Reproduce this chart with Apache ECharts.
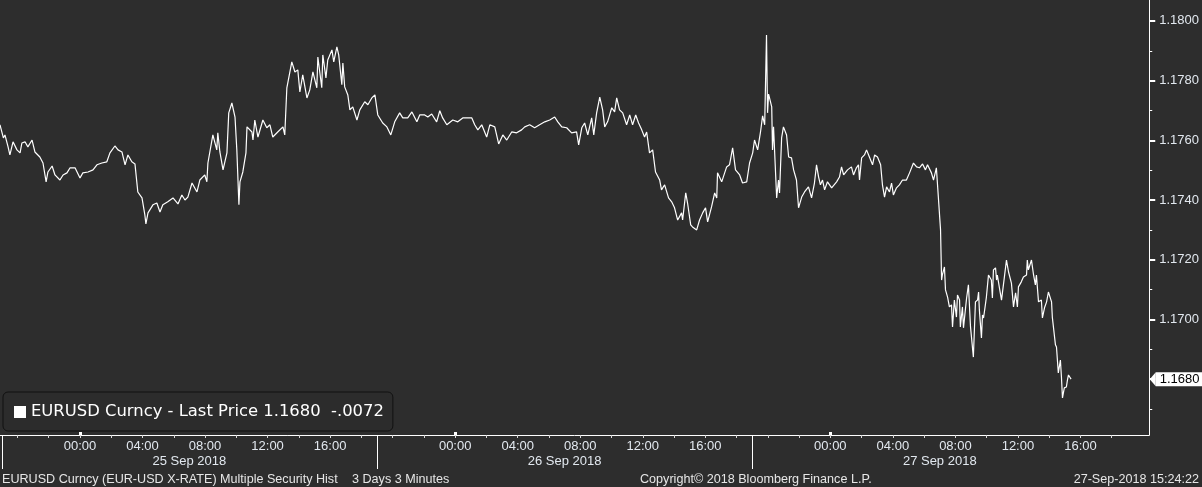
<!DOCTYPE html>
<html>
<head>
<meta charset="utf-8">
<script src="https://cdn.jsdelivr.net/npm/echarts@6/dist/echarts.min.js"></script>
<style>
html,body{margin:0;padding:0;background:#2d2d2d;}
#chart{width:1202px;height:487px;}
</style>
</head>
<body>
<div id="chart"></div>
<script>
// Time unit: minutes since 24 Sep 2018 00:00. Each session runs 19:00 -> 19:00.
const sep25Minutes = [1133,1146,1152,1164,1171,1183,1198,1210,1217,1229,1240,1256,1267,1286,1298,1310,1317,1333,1344,1363,1375,1390,1402,1421,1440,1451,1471,1490,1505,1524,1543,1555,1574,1586,1601,1613,1624,1639,1651,1662,1678,1689,1693,1701,1720,1735,1747,1758,1777,1797,1816,1831,1843,1854,1870,1889,1900,1919,1927,1931,1950,1965,1969,1977,1989,2004,2011,2023,2035,2042,2050,2054,2065,2077,2081,2100,2104,2111,2123,2142,2157,2169,2180,2199,2219,2226,2234,2253,2265,2276,2284,2295,2311,2322,2334,2349,2353,2368,2372,2384,2391,2407,2414,2426,2433,2445,2449,2456,2468,2476,2487,2503,2514,2533,2545,2560,2572];
const sep25Prices = [1.17652,1.17608,1.17618,1.17578,1.17551,1.17595,1.17568,1.17558,1.17591,1.17595,1.17578,1.17601,1.17561,1.17544,1.17524,1.17461,1.17494,1.17514,1.17484,1.17467,1.17484,1.17491,1.17508,1.17508,1.17474,1.17491,1.17494,1.17501,1.17518,1.17524,1.17528,1.17558,1.17581,1.17568,1.17561,1.17518,1.17551,1.17528,1.17521,1.17427,1.17407,1.17350,1.17320,1.17357,1.17384,1.17390,1.17360,1.17384,1.17394,1.17407,1.17387,1.17417,1.17400,1.17410,1.17457,1.17427,1.17467,1.17484,1.17461,1.17524,1.17618,1.17568,1.17625,1.17561,1.17501,1.17558,1.17692,1.17725,1.17678,1.17568,1.17384,1.17461,1.17494,1.17558,1.17645,1.17628,1.17601,1.17668,1.17611,1.17668,1.17642,1.17652,1.17611,1.17628,1.17645,1.17618,1.17776,1.17863,1.17829,1.17836,1.17762,1.17819,1.17742,1.17769,1.17829,1.17776,1.17879,1.17776,1.17886,1.17809,1.17869,1.17903,1.17863,1.17913,1.17886,1.17786,1.17859,1.17779,1.17752,1.17702,1.17712,1.17668,1.17702,1.17729,1.17719,1.17742,1.17752];

const sep26Minutes = [2583,2602,2618,2633,2648,2667,2679,2698,2714,2733,2744,2763,2775,2790,2809,2821,2832,2848,2871,2890,2909,2928,2944,2955,2967,2982,3001,3013,3032,3047,3063,3078,3097,3116,3135,3147,3166,3185,3204,3224,3243,3262,3274,3289,3308,3327,3346,3354,3366,3377,3389,3404,3412,3423,3435,3446,3454,3465,3481,3492,3500,3511,3523,3538,3550,3561,3573,3584,3596,3607,3615,3626,3638,3649,3665,3672,3684,3699,3711,3722,3734,3749,3753,3765,3772,3784,3791,3807,3818,3830,3841,3849,3864,3876,3884,3887,3903,3922,3933,3945,3956,3972,3983,3999,4010];
const sep26Prices = [1.17685,1.17658,1.17645,1.17618,1.17662,1.17692,1.17675,1.17675,1.17695,1.17662,1.17685,1.17685,1.17678,1.17688,1.17662,1.17699,1.17675,1.17652,1.17668,1.17662,1.17675,1.17675,1.17675,1.17652,1.17635,1.17652,1.17611,1.17652,1.17645,1.17588,1.17618,1.17601,1.17628,1.17625,1.17635,1.17645,1.17652,1.17642,1.17652,1.17662,1.17668,1.17678,1.17662,1.17645,1.17642,1.17625,1.17628,1.17585,1.17642,1.17658,1.17618,1.17675,1.17618,1.17692,1.17745,1.17702,1.17645,1.17662,1.17709,1.17695,1.17742,1.17702,1.17692,1.17652,1.17685,1.17652,1.17685,1.17658,1.17635,1.17611,1.17628,1.17558,1.17568,1.17494,1.17467,1.17434,1.17451,1.17407,1.17394,1.17374,1.17333,1.17357,1.17333,1.17424,1.17390,1.17317,1.17310,1.17300,1.17333,1.17357,1.17374,1.17327,1.17377,1.17424,1.17407,1.17491,1.17461,1.17511,1.17518,1.17575,1.17501,1.17484,1.17457,1.17461,1.17524];

const sep27Minutes = [4022,4029,4041,4052,4060,4068,4075,4079,4083,4095,4098,4102,4114,4121,4125,4133,4140,4152,4160,4171,4179,4190,4198,4210,4221,4236,4248,4259,4267,4275,4282,4290,4298,4309,4325,4344,4355,4363,4371,4386,4401,4409,4420,4428,4432,4440,4451,4459,4470,4482,4490,4501,4513,4520,4528,4536,4547,4555,4562,4574,4585,4597,4612,4624,4639,4651,4662,4674,4685,4693,4708,4716,4727,4731,4743,4747,4750,4758,4762,4770,4777,4785,4789,4796,4804,4808,4816,4819,4827,4831,4843,4850,4858,4865,4869,4877,4885,4889,4892,4900,4904,4908,4915,4919,4927,4938,4942,4946,4954,4958,4961,4969,4977,4988,4996,5004,5015,5023,5031,5038,5042,5053,5061,5073,5076,5080,5092,5100,5107,5111,5119,5130,5134,5142,5150,5157,5169,5172,5184,5188,5195,5203,5207,5211,5218,5226,5230,5234,5244];
const sep27Prices = [1.17558,1.17601,1.17568,1.17628,1.17682,1.17652,1.17953,1.17692,1.17755,1.17712,1.17568,1.17645,1.17407,1.17467,1.17424,1.17608,1.17645,1.17618,1.17544,1.17541,1.17501,1.17467,1.17374,1.17410,1.17427,1.17444,1.17407,1.17457,1.17518,1.17477,1.17451,1.17467,1.17434,1.17461,1.17441,1.17461,1.17477,1.17511,1.17484,1.17501,1.17511,1.17484,1.17508,1.17518,1.17467,1.17541,1.17551,1.17568,1.17544,1.17518,1.17551,1.17544,1.17518,1.17451,1.17410,1.17444,1.17427,1.17457,1.17417,1.17441,1.17451,1.17467,1.17467,1.17491,1.17524,1.17511,1.17508,1.17521,1.17501,1.17518,1.17491,1.17467,1.17508,1.17511,1.17300,1.17132,1.17149,1.17176,1.17099,1.17075,1.17042,1.17049,1.16975,1.17065,1.17008,1.17082,1.17065,1.16975,1.17042,1.16972,1.17072,1.17116,1.16975,1.16972,1.16874,1.17059,1.17065,1.17092,1.17032,1.16938,1.17015,1.17005,1.17049,1.17075,1.17149,1.17132,1.17072,1.17166,1.17173,1.17132,1.17149,1.17106,1.17065,1.17142,1.17199,1.17159,1.17122,1.17042,1.17089,1.17042,1.17109,1.17126,1.17142,1.17149,1.17199,1.17166,1.17199,1.17149,1.17116,1.17149,1.17059,1.17065,1.17005,1.17039,1.17059,1.17092,1.17059,1.17008,1.16915,1.16908,1.16821,1.16864,1.16807,1.16737,1.16771,1.16774,1.16797,1.16814,1.16800];

const seriesName = 'EURUSD Curncy';
const lastPrice = 1.1680;
const netChange = -0.0072;
const sessionDates = ['25 Sep 2018', '26 Sep 2018', '27 Sep 2018'];
const labelHours = [0, 4, 8, 12, 16];
const priceLabels = [1.168, 1.170, 1.172, 1.174, 1.176, 1.178, 1.180];
const minorPrices = [1.167, 1.169, 1.171, 1.173, 1.175, 1.177, 1.179];
const footerLeft = 'EURUSD Curncy (EUR-USD X-RATE) Multiple Security Hist';
const footerRange = '3 Days 3 Minutes';
const footerCopyright = 'Copyright\u00a9 2018 Bloomberg Finance L.P.';
const footerStamp = '27-Sep-2018 15:24:22';

// axis range (minutes / price)
const xMin = 1133, xMax = 5544;
const yMin = 1.16613, yMax = 1.18070;

const DAY = 1440, SESSION_START = 1140; // 19:00 on 24 Sep
const data = [];
[[sep25Minutes, sep25Prices], [sep26Minutes, sep26Prices], [sep27Minutes, sep27Prices]].forEach(([t, p]) => {
  for (let i = 0; i < t.length; i++) data.push([t[i], p[i]]);
});

const hourLabelValues = [];
for (let d = 1; d <= 3; d++) labelHours.forEach(h => hourLabelValues.push(d * DAY + h * 60));
const hourTickValues = [];
for (let m = 1200; m <= 5400; m += 120) hourTickValues.push(m);
const midnightTicks = [1 * DAY, 2 * DAY, 3 * DAY];
const sessionSeparators = sessionDates.map((_, k) => SESSION_START + k * DAY);
const sessionMids = sessionDates.map((_, k) => SESSION_START + DAY / 2 + k * DAY);

const labelColor = '#e2e8ef';
const axisFont = 'Liberation Sans';
const footerStyle = {color: '#e6e6e6', fontFamily: axisFont, fontSize: 12.6, fontWeight: 'normal'};

const chart = echarts.init(document.getElementById('chart'), null, {renderer: 'canvas'});
chart.setOption({
  backgroundColor: '#2d2d2d',
  animation: false,
  grid: {left: 0, right: 52, top: 0, bottom: 52, containLabel: false},
  title: [
    {text: footerLeft, left: 2, top: 473, padding: 0, textStyle: footerStyle},
    {text: footerRange, left: 352, top: 473, padding: 0, textStyle: footerStyle},
    {text: footerCopyright, left: 640, top: 473, padding: 0, textStyle: footerStyle},
    {text: footerStamp, right: 3, top: 473, padding: 0, textStyle: footerStyle}
  ],
  legend: {
    left: 3, top: 392,
    data: [seriesName],
    icon: 'rect', itemWidth: 12, itemHeight: 12,
    padding: [10, 9, 9, 11],
    backgroundColor: '#2c2c2c',
    borderColor: '#111111', borderWidth: 1, borderRadius: 5,
    selectedMode: false,
    textStyle: {color: '#ffffff', fontFamily: 'DejaVu Sans', fontSize: 16.4, lineHeight: 20},
    formatter: name => name + ' - Last Price ' + lastPrice.toFixed(4) + '  ' + (netChange < 0 ? '-' : '+') + Math.abs(netChange).toFixed(4).replace(/^0/, '')
  },
  xAxis: [
    {
      type: 'value', position: 'bottom', min: xMin, max: xMax,
      axisLine: {show: true, lineStyle: {color: '#ffffff', width: 1}},
      axisTick: {show: true, customValues: hourTickValues, length: 3, lineStyle: {color: '#d8d8d8', width: 1}},
      axisLabel: {show: true, customValues: hourLabelValues, margin: 5, color: labelColor, fontFamily: axisFont, fontSize: 13,
        formatter: v => String(Math.round(v / 60) % 24).padStart(2, '0') + ':00'},
      splitLine: {show: false}
    },
    {
      type: 'value', position: 'bottom', min: xMin, max: xMax,
      axisLine: {show: false},
      axisTick: {show: true, customValues: sessionSeparators, length: 34, lineStyle: {color: '#ffffff', width: 1}},
      axisLabel: {show: true, customValues: sessionMids, margin: 20, color: labelColor, fontFamily: axisFont, fontSize: 13,
        formatter: v => sessionDates[Math.round((v - SESSION_START - DAY / 2) / DAY)]},
      splitLine: {show: false}
    },
    {
      type: 'value', position: 'bottom', min: xMin, max: xMax,
      axisLine: {show: false},
      axisTick: {show: true, inside: true, customValues: midnightTicks, length: 3, lineStyle: {color: '#ffffff', width: 3}},
      axisLabel: {show: false},
      splitLine: {show: false}
    }
  ],
  yAxis: [
    {
      type: 'value', position: 'right', min: yMin, max: yMax, scale: true,
      axisLine: {show: true, lineStyle: {color: '#ffffff', width: 1}},
      axisTick: {show: true, customValues: priceLabels, length: 6, lineStyle: {color: '#ffffff', width: 2}},
      axisLabel: {show: true, customValues: priceLabels, margin: 10, color: labelColor, fontFamily: axisFont, fontSize: 13,
        formatter: v => v.toFixed(4)},
      splitLine: {show: false}
    },
    {
      type: 'value', position: 'right', min: yMin, max: yMax, scale: true,
      axisLine: {show: false},
      axisTick: {show: true, customValues: minorPrices, length: 3, lineStyle: {color: '#ffffff', width: 1}},
      axisLabel: {show: false},
      splitLine: {show: false}
    }
  ],
  series: [{
    name: seriesName,
    type: 'line',
    xAxisIndex: 0, yAxisIndex: 0,
    data: data,
    showSymbol: false,
    symbol: 'none',
    itemStyle: {color: '#ffffff'},
    lineStyle: {color: '#ffffff', width: 1.2},
    markPoint: {
      silent: true,
      data: [{coord: [xMax, lastPrice]}],
      symbol: 'path://M0,6 L6,0 L6,12 Z',
      symbolSize: [6, 14],
      symbolOffset: [3.5, 0],
      itemStyle: {color: '#ffffff'},
      label: {show: true, position: 'right', distance: 0, formatter: () => lastPrice.toFixed(4),
        backgroundColor: '#ffffff', color: '#000000', fontFamily: axisFont, fontSize: 13, lineHeight: 14, padding: [0, 8, 0, 4]}
    }
  }]
});
</script>
</body>
</html>
